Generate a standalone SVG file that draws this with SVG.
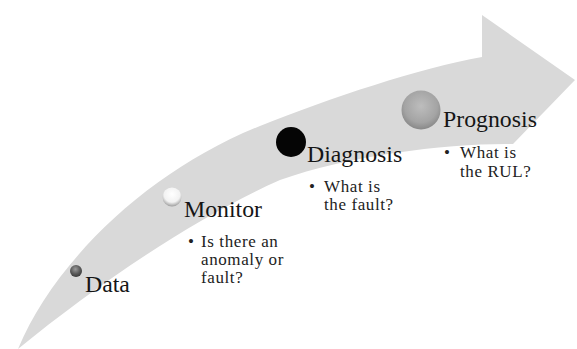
<svg xmlns="http://www.w3.org/2000/svg" width="577" height="349" viewBox="0 0 577 349">
<defs>
<style>
text{font-family:"Liberation Serif","Times New Roman","DejaVu Serif",serif}
.title{font-size:23.8px;fill:#151515}
.bul{font-size:17px;letter-spacing:0.6px;fill:#222}
</style>
<radialGradient id="gDark" cx="0.45" cy="0.35" r="0.65">
<stop offset="0" stop-color="#9a9a9a"/><stop offset="0.6" stop-color="#5a5a5a"/><stop offset="1" stop-color="#3a3a3a"/>
</radialGradient>
<radialGradient id="gWhite" cx="0.5" cy="0.35" r="0.65">
<stop offset="0" stop-color="#ffffff"/><stop offset="0.65" stop-color="#f2f2f2"/><stop offset="1" stop-color="#9c9c9c"/>
</radialGradient>
<radialGradient id="gGrey" cx="0.5" cy="0.4" r="0.6">
<stop offset="0" stop-color="#bdbdbd"/><stop offset="0.7" stop-color="#a4a4a4"/><stop offset="1" stop-color="#888"/>
</radialGradient>
</defs>
<rect width="577" height="349" fill="#fff"/>
<g id="connectors">
<path d="M18,349 C55,260 150,170 260,126 C330,98 420,68 482,57 L482,15 L575,80 L513,144 C450,143 350,155 280,180 C200,215 100,282 18,349 Z" fill="#d9d9d9"/>
</g>
<g id="data">
<circle cx="76" cy="271" r="6" fill="url(#gDark)"/>
<text class="title" x="85" y="292">Data</text>
</g>
<g id="monitor">
<circle cx="172" cy="197" r="9.5" fill="url(#gWhite)"/>
<text class="title" x="184" y="217">Monitor</text>
<text class="bul" x="188" y="247">•</text>
<text class="bul" x="201" y="247">Is there an</text>
<text class="bul" x="201" y="265">anomaly or</text>
<text class="bul" x="201" y="283">fault?</text>
</g>
<g id="diagnosis">
<circle cx="291" cy="142" r="15" fill="#050505"/>
<text class="title" x="307" y="162">Diagnosis</text>
<text class="bul" x="309" y="192">•</text>
<text class="bul" x="324" y="192">What is</text>
<text class="bul" x="324" y="210">the fault?</text>
</g>
<g id="prognosis">
<circle cx="421" cy="110" r="19.5" fill="url(#gGrey)"/>
<text class="title" x="443" y="127">Prognosis</text>
<text class="bul" x="444" y="158">•</text>
<text class="bul" x="460" y="158">What is</text>
<text class="bul" x="460" y="177">the RUL?</text>
</g>
</svg>
